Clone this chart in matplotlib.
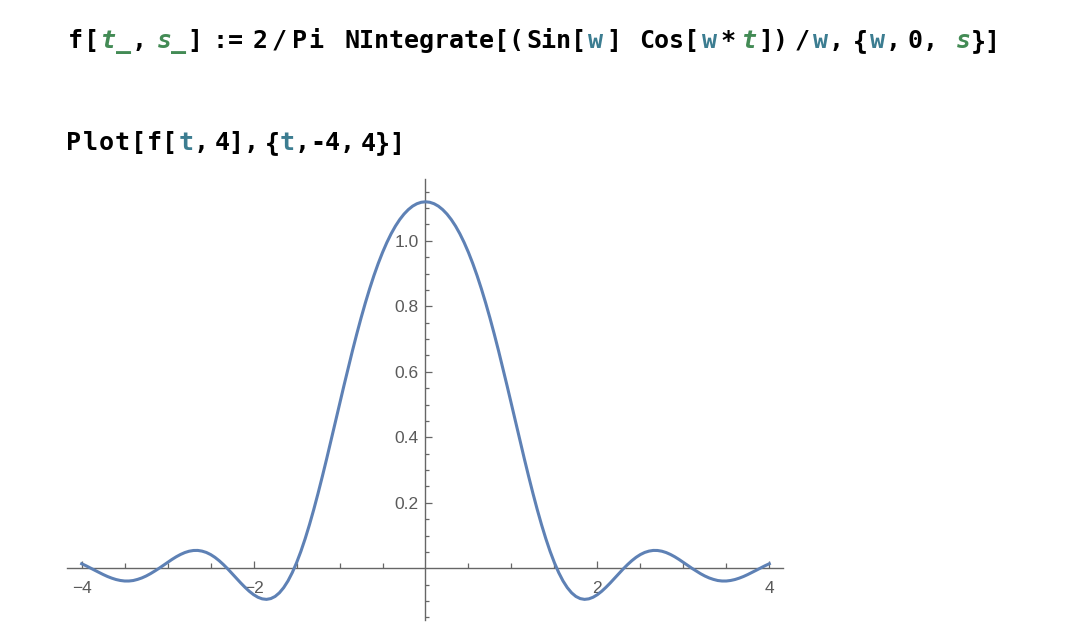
import matplotlib
matplotlib.use("Agg")
import matplotlib.pyplot as plt

t_values = [i / 20 for i in range(-80, 81)]
f_values = [
    0.0138, 0.0077, 0.0011, -0.0058, -0.0126, -0.0191, -0.0251, -0.0302, -0.0344, -0.0373,
    -0.0389, -0.0389, -0.0374, -0.0340, -0.0295, -0.0236, -0.0165, -0.0085, -0.0001, 0.0090,
    0.0181, 0.0269, 0.0351, 0.0422, 0.0480, 0.0521, 0.0543, 0.0545, 0.0524, 0.0483,
    0.0419, 0.0334, 0.0230, 0.0110, -0.0021, -0.0161, -0.0305, -0.0447, -0.0581, -0.0703,
    -0.0806, -0.0885, -0.0934, -0.0950, -0.0926, -0.0861, -0.0750, -0.0592, -0.0387, -0.0133,
    0.0169, 0.0515, 0.0904, 0.1332, 0.1795, 0.2289, 0.2807, 0.3343, 0.3894, 0.4452,
    0.5011, 0.5566, 0.6111, 0.6642, 0.7153, 0.7642, 0.8104, 0.8537, 0.8940, 0.9309,
    0.9645, 0.9947, 1.0216, 1.0450, 1.0650, 1.0818, 1.0954, 1.1060, 1.1134, 1.1178,
    1.1193,
    1.1178, 1.1134, 1.1060, 1.0954, 1.0818, 1.0650, 1.0450, 1.0216, 0.9947, 0.9645,
    0.9309, 0.8940, 0.8537, 0.8104, 0.7642, 0.7153, 0.6642, 0.6111, 0.5566, 0.5011,
    0.4452, 0.3894, 0.3343, 0.2807, 0.2289, 0.1795, 0.1332, 0.0904, 0.0515, 0.0169,
    -0.0133, -0.0387, -0.0592, -0.0750, -0.0861, -0.0926, -0.0950, -0.0934, -0.0885, -0.0806,
    -0.0703, -0.0581, -0.0447, -0.0305, -0.0161, -0.0021, 0.0110, 0.0230, 0.0334, 0.0419,
    0.0483, 0.0524, 0.0545, 0.0543, 0.0521, 0.0480, 0.0422, 0.0351, 0.0269, 0.0181,
    0.0090, -0.0001, -0.0085, -0.0165, -0.0236, -0.0295, -0.0340, -0.0374, -0.0389, -0.0389,
    -0.0373, -0.0344, -0.0302, -0.0251, -0.0191, -0.0126, -0.0058, 0.0011, 0.0077, 0.0138,
]

x_ticks = [-4, -2, 2, 4]
x_tick_labels = ["\u22124", "\u22122", "2", "4"]
x_minor = [-3.5, -3, -2.5, -1.5, -1, -0.5, 0.5, 1, 1.5, 2.5, 3, 3.5]
y_ticks = [0.2, 0.4, 0.6, 0.8, 1.0]
y_tick_labels = ["0.2", "0.4", "0.6", "0.8", "1.0"]
y_minor = [-0.15, -0.1, -0.05, 0.05, 0.1, 0.15, 0.25, 0.3, 0.35, 0.45, 0.5, 0.55,
           0.65, 0.7, 0.75, 0.85, 0.9, 0.95, 1.05, 1.1, 1.15]

W, H = 1068, 632
B = "#000000"
G = "#438b55"   # pattern variables
T = "#3c7d91"   # local variables

fig = plt.figure(figsize=(W / 100, H / 100), dpi=100)
fig.patch.set_facecolor("white")

# notebook input cells: (left x pixel, text, colour, italic)
line1 = [
    (68, "f", B, 0), (84, "[", B, 0), (101, "t_", G, 1), (131.5, ",", B, 0),
    (157, "s_", G, 1), (187.5, "]", B, 0), (212, ":", B, 0), (228, "=", B, 0),
    (252.5, "2", B, 0), (271.5, "/", B, 0), (292.5, "P", B, 0), (308, "i", B, 0),
    (344, "NIntegrate[(", B, 0), (526, "Sin[", B, 0), (588.5, "w", T, 0), (606, "]", B, 0),
    (639.5, "Cos[", B, 0), (701.5, "w", T, 0), (720, "*", B, 0), (742.5, "t", G, 1),
    (758.5, "])", B, 0), (794.5, "/", B, 0), (813, "w", T, 0), (828.5, ",", B, 0),
    (852.5, "{", B, 0), (870, "w", T, 0), (885.5, ",", B, 0), (907.5, "0", B, 0),
    (923, ",", B, 0), (956, "s", G, 1), (970.5, "}]", B, 0),
]
line2 = [
    (66.5, "P", B, 0), (82.5, "l", B, 0), (98.5, "o", B, 0), (114.5, "t", B, 0),
    (130.5, "[", B, 0), (146.5, "f", B, 0), (162, "[", B, 0), (179, "t", T, 0),
    (194, ",", B, 0), (214.5, "4],", B, 0), (264.5, "{", B, 0), (279.5, "t", T, 0),
    (294.5, ",", B, 0), (310.5, "-4,", B, 0), (360.5, "4}]", B, 0),
]
for runs, base in ((line1, 48), (line2, 150)):
    for x, s, c, it in runs:
        fig.text(x / W, 1 - base / H, s, color=c, fontsize=18, family="DejaVu Sans Mono",
                 weight="bold", style="italic" if it else "normal", va="baseline", ha="left")

ax = fig.add_axes([67 / W, 1 - 620 / H, (782.7 - 67) / W, (620 - 179.3) / H])
ax.set_facecolor("none")
ax.plot(t_values, f_values, color="#5e81b5", lw=2.2, zorder=3)
ax.set_xlim(-4.171, 4.156)
ax.set_ylim(-0.158, 1.188)

for side in ("top", "right"):
    ax.spines[side].set_visible(False)
for side in ("left", "bottom"):
    ax.spines[side].set_position(("data", 0))
    ax.spines[side].set_color("#666666")
    ax.spines[side].set_linewidth(1.0)

ax.set_xticks(x_ticks)
ax.set_xticklabels(x_tick_labels)
ax.set_xticks(x_minor, minor=True)
ax.set_yticks(y_ticks)
ax.set_yticklabels(y_tick_labels)
ax.set_yticks(y_minor, minor=True)

ax.tick_params(axis="both", which="both", direction="in", color="#666666", width=0.9,
               labelcolor="#5a5a5a", labelsize=12.5)
ax.tick_params(axis="x", which="major", length=5, pad=9)
ax.tick_params(axis="x", which="minor", length=3.6)
ax.tick_params(axis="y", which="major", length=5, pad=5)
ax.tick_params(axis="y", which="minor", length=2.8)
for lab in ax.get_xticklabels() + ax.get_yticklabels():
    lab.set_family("Liberation Sans")

fig.savefig("out.png", dpi=100)
